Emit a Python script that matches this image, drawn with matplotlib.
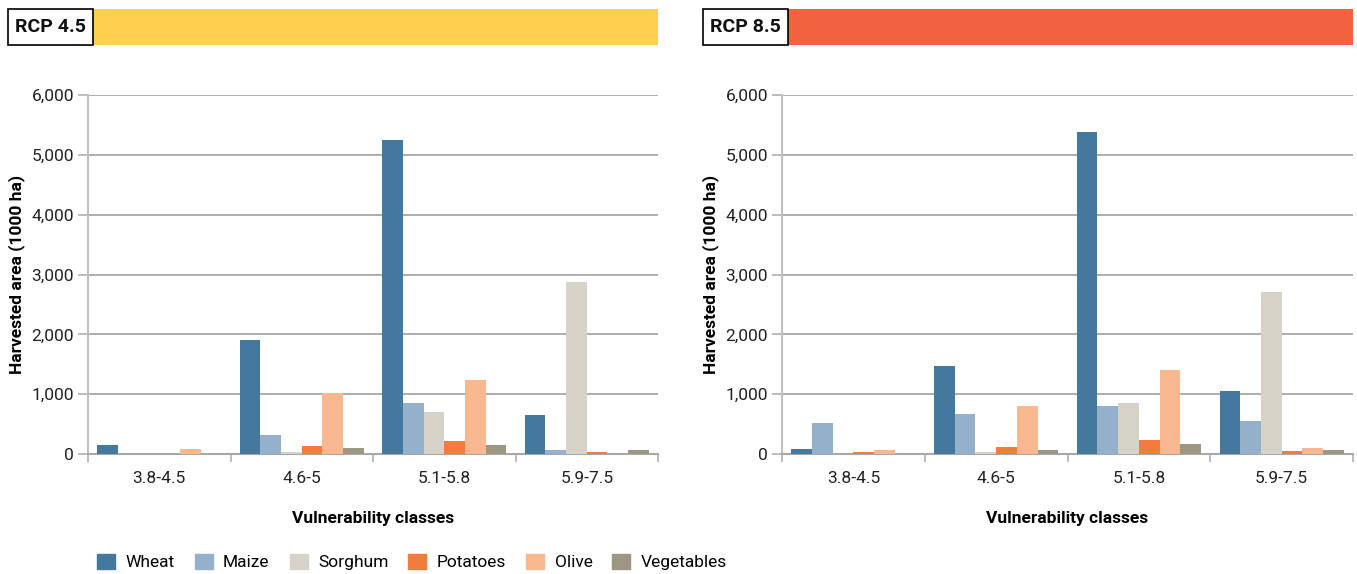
import numpy as np
import matplotlib.pyplot as plt
from matplotlib.patches import Rectangle

plt.rcParams['font.family'] = ['Roboto', 'DejaVu Sans']

classes = ['3.8-4.5', '4.6-5', '5.1-5.8', '5.9-7.5']
crops = ['Wheat', 'Maize', 'Sorghum', 'Potatoes', 'Olive', 'Vegetables']
colors = ['#44789c', '#95b0cb', '#d6d2c7', '#f47b3c', '#fab891', '#9d9683']

# harvested area (1000 ha) per crop, one value per vulnerability class
rcp45 = {
    'Wheat':      [150, 1900, 5240, 660],
    'Maize':      [0, 315, 860, 66],
    'Sorghum':    [0, 33, 710, 2870],
    'Potatoes':   [0, 132, 214, 33],
    'Olive':      [82, 1025, 1230, 0],
    'Vegetables': [0, 99, 148, 66],
}
rcp85 = {
    'Wheat':      [82, 1470, 5380, 1060],
    'Maize':      [511, 676, 810, 544],
    'Sorghum':    [0, 33, 860, 2710],
    'Potatoes':   [33, 115, 231, 50],
    'Olive':      [66, 810, 1400, 99],
    'Vegetables': [0, 66, 165, 66],
}

W, H = 1357, 574
fig = plt.figure(figsize=(W / 100, H / 100), dpi=100)


def fx(px):
    return px / W


def fy(px):
    return 1 - px / H


def draw_panel(ax, data):
    x = np.arange(len(classes))
    bw = 0.145
    for i, crop in enumerate(crops):
        off = (i - 2.5) * bw
        ax.bar(x + off, data[crop], width=bw, color=colors[i], zorder=3)
    ax.set_xlim(-0.5, len(classes) - 0.5)
    ax.set_ylim(0, 6000)
    ax.set_yticks(np.arange(0, 6001, 1000))
    ax.set_yticklabels([f'{v:,}' for v in range(0, 6001, 1000)], fontsize=12.5, color='#222222')
    ax.set_xticks(x)
    ax.set_xticklabels(classes, fontsize=12.5, color='#222222')
    ax.set_xticks(np.arange(-0.5, len(classes)), minor=True)
    ax.tick_params(axis='x', which='major', length=0, pad=12)
    ax.tick_params(axis='x', which='minor', length=6, color='#b0b0b0', width=1.2)
    ax.tick_params(axis='y', length=7, color='#b0b0b0', width=1.2, pad=3)
    ax.grid(axis='y', color='#a0a0a0', lw=1.2, zorder=0)
    for s in ['top', 'right']:
        ax.spines[s].set_visible(False)
    ax.spines['left'].set_color('#c0c0c0')
    ax.spines['left'].set_linewidth(1.5)
    ax.spines['bottom'].set_color('#a8a8a8')
    ax.spines['bottom'].set_linewidth(1.5)
    ax.set_ylabel('Harvested area (1000 ha)', fontsize=12.5, fontweight='bold', labelpad=5)
    ax.set_xlabel('Vulnerability classes', fontsize=12.5, fontweight='bold', labelpad=18)


def draw_header(x0, xb, x1, label, color):
    y0, y1 = 9, 45
    fig.add_artist(Rectangle((fx(xb), fy(y1)), fx(x1) - fx(xb), fy(y0) - fy(y1),
                             transform=fig.transFigure, facecolor=color, edgecolor='none'))
    fig.add_artist(Rectangle((fx(x0), fy(y1)), fx(xb) - fx(x0), fy(y0) - fy(y1),
                             transform=fig.transFigure, facecolor='white',
                             edgecolor='black', lw=1.2))
    fig.text(fx((x0 + xb) / 2), fy((y0 + y1) / 2), label, ha='center', va='center',
             fontsize=14, fontweight='bold', color='#111111')


ax1 = fig.add_axes([fx(88), fy(454), fx(658) - fx(88), fy(95) - fy(454)])
ax2 = fig.add_axes([fx(782), fy(454), fx(1353) - fx(782), fy(95) - fy(454)])
draw_panel(ax1, rcp45)
draw_panel(ax2, rcp85)

draw_header(8, 93, 658, 'RCP 4.5', '#ffd04d')
draw_header(703, 788, 1353, 'RCP 8.5', '#f26140')

handles = [Rectangle((0, 0), 1, 1, color=c) for c in colors]
fig.legend(handles, crops, loc='center left', bbox_to_anchor=(fx(97), fy(562)), ncol=6,
           frameon=False, fontsize=12.5, handlelength=1.04, handleheight=0.95,
           columnspacing=1.15, handletextpad=0.6, borderpad=0, borderaxespad=0)

fig.savefig('out.png', dpi=100)
